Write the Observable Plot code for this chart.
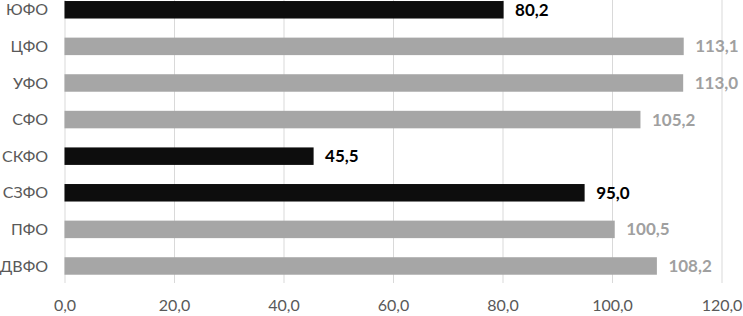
<!DOCTYPE html>
<html>
<head>
<meta charset="utf-8">
<script src="https://cdn.jsdelivr.net/npm/d3@7"></script>
<script src="https://cdn.jsdelivr.net/npm/@observablehq/plot@0.6"></script>
<style>
  html, body { margin: 0; padding: 0; background: #fff; }
</style>
</head>
<body>
<div id="chart"></div>
<script>
const regions = ["ЮФО", "ЦФО", "УФО", "СФО", "СКФО", "СЗФО", "ПФО", "ДВФО"];
const values = [80.2, 113.1, 113.0, 105.2, 45.5, 95.0, 100.5, 108.2];
const xTicks = [0, 20, 40, 60, 80, 100, 120];

const data = regions.map((r, i) => ({region: r, value: values[i], low: values[i] < 100}));
const fmt = d => d.toFixed(1).replace(".", ",");

const chart = Plot.plot({
  width: 743,
  height: 316,
  marginLeft: 64.5,
  marginRight: 21.5,
  marginTop: 0,
  marginBottom: 33,
  style: {fontFamily: "Lato, 'Open Sans', sans-serif", fontSize: "16px", color: "#595959", background: "#fff"},
  x: {domain: [0, 120], ticks: xTicks, tickFormat: fmt},
  y: {domain: regions, paddingInner: 0.522, paddingOuter: 0.127, align: 0.11, round: false},
  marks: [
    Plot.gridX(xTicks, {stroke: "#d9d9d9", strokeOpacity: 1, strokeWidth: 1}),
    Plot.barX(data, {x: "value", y: "region", fill: d => d.low ? "#0d0d0d" : "#a6a6a6"}),
    Plot.text(data, {
      x: "value", y: "region", text: d => fmt(d.value), dx: 11, textAnchor: "start",
      fontWeight: "bold", fontSize: 17, fill: d => d.low ? "#000000" : "#a0a0a0"
    }),
    Plot.axisY({tickSize: 0, tickPadding: 17, fontSize: 16, label: null}),
    Plot.axisX({ticks: xTicks, tickFormat: fmt, tickSize: 0, tickPadding: 16, fontSize: 16, label: null})
  ]
});
document.getElementById("chart").appendChild(chart);
</script>
</body>
</html>
